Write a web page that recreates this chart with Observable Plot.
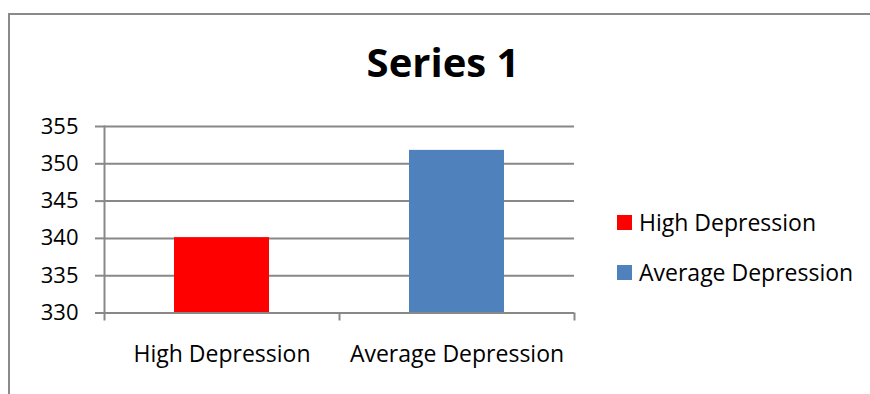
<!DOCTYPE html>
<html><head><meta charset="utf-8">
<script src="https://cdn.jsdelivr.net/npm/d3@7"></script>
<script src="https://cdn.jsdelivr.net/npm/@observablehq/plot@0.6"></script>
<style>
body{margin:0;background:#fff;}
#wrap{position:relative;width:870px;height:394px;overflow:hidden;font-family:"Open Sans",sans-serif;background:#fff;}
#border{position:absolute;left:8px;top:13px;width:900px;height:420px;border:2px solid #8a8a8a;box-sizing:border-box;}
#chart{position:absolute;left:0;top:0;}
#title{position:absolute;left:0;width:886px;top:41.5px;text-align:center;font-size:40px;line-height:40px;font-weight:bold;color:#000;}
.leg{position:absolute;left:617px;height:23px;display:flex;align-items:center;font-size:23px;line-height:23px;color:#000;white-space:nowrap;}
.sw{width:15px;height:15px;margin-right:7px;flex:none;}
</style>
</head><body>
<div id="wrap">
  <div id="border"></div>
  <div id="chart"></div>
  <div id="title"></div>
  <div id="legend"></div>
</div>
<script>
const title = "Series 1";
const categories = ["High Depression", "Average Depression"];
const values = [340.1, 351.8];
const colors = ["#ff0000", "#4f81bd"];
const yTicks = [330, 335, 340, 345, 350, 355];

const data = categories.map((c, i) => ({i, category: c, value: values[i], color: colors[i]}));
const grey = "#888888";

const chart = Plot.plot({
  width: 870,
  height: 394,
  marginLeft: 104,
  marginRight: 296,
  marginTop: 126,
  marginBottom: 81.5,
  x: {type: "linear", domain: [0, categories.length], label: null},
  y: {domain: [yTicks[0], yTicks[yTicks.length - 1]], label: null},
  style: {fontFamily: "Open Sans", fontSize: "22px", color: "#000", background: "transparent", overflow: "visible"},
  marks: [
    Plot.gridY(yTicks, {stroke: grey, strokeOpacity: 1, strokeWidth: 2}),
    Plot.rectY(data, {x1: d => d.i, x2: d => d.i + 1, y1: yTicks[0], y2: "value", fill: d => d.color, insetLeft: 70, insetRight: 70}),
    Plot.ruleY([yTicks[0]], {stroke: grey, strokeWidth: 2}),
    Plot.axisY(yTicks, {tickSize: 9, tickPadding: 17, stroke: grey, strokeWidth: 2, fill: "#000", label: null}),
    Plot.frame({anchor: "left", stroke: grey, strokeWidth: 2}),
    Plot.axisX(d3.range(categories.length + 1), {tickSize: 8, tickFormat: () => "", stroke: grey, strokeWidth: 2, label: null}),
    Plot.axisX(categories.map((c, i) => i + 0.5), {tickSize: 0, tickPadding: 33, fontSize: 23, tickFormat: v => categories[Math.floor(v)], fill: "#000", label: null})
  ]
});
document.getElementById("chart").appendChild(chart);
document.getElementById("title").textContent = title;

const legend = document.getElementById("legend");
const rowCenters = [223.5, 273];
categories.forEach((c, i) => {
  const row = document.createElement("div");
  row.className = "leg";
  row.style.top = (rowCenters[i] - 12.2) + "px";
  const sw = document.createElement("span");
  sw.className = "sw";
  sw.style.background = colors[i];
  const t = document.createElement("span");
  t.textContent = c;
  row.appendChild(sw);
  row.appendChild(t);
  legend.appendChild(row);
});
</script>
</body></html>
